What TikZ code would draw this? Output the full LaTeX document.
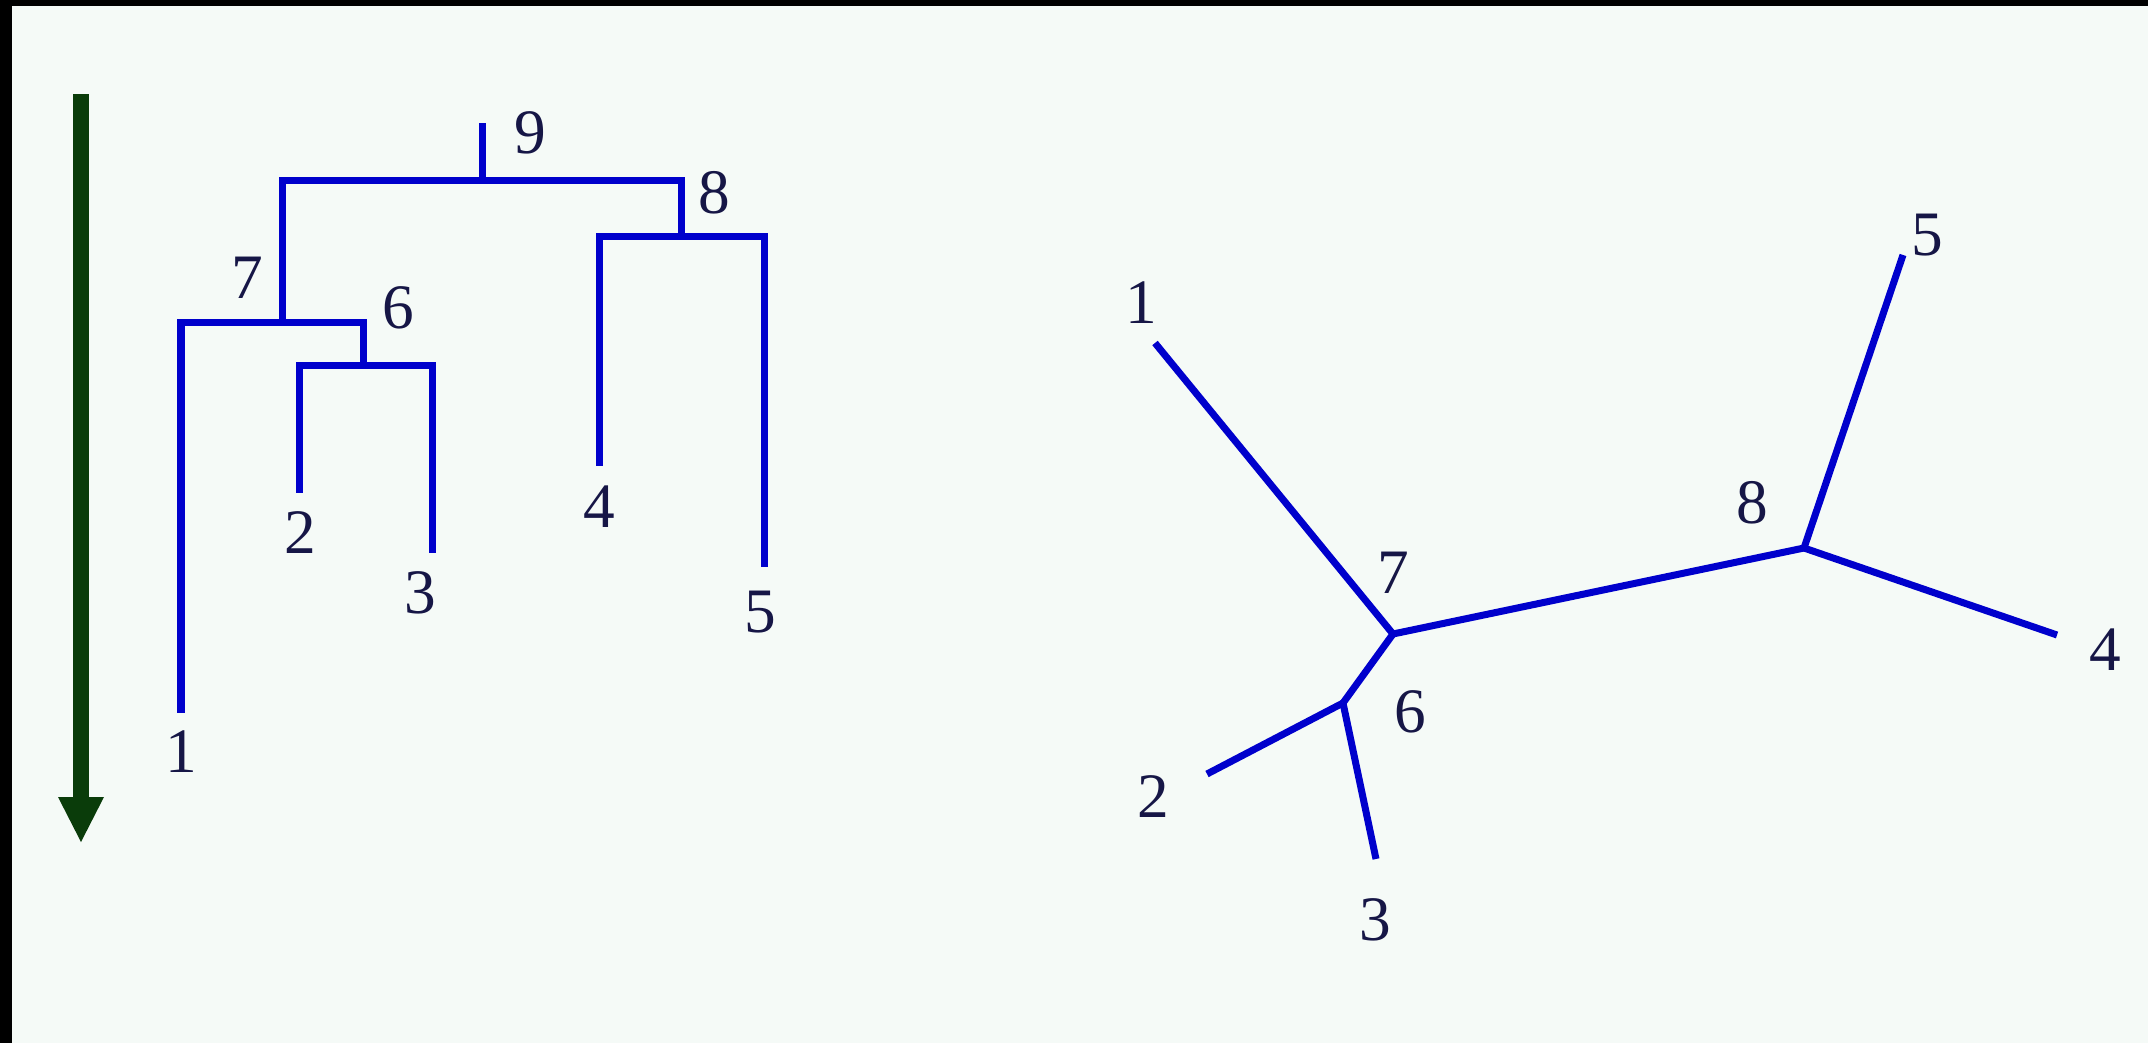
\documentclass[tikz,border=0pt]{standalone}
\usepackage{fontspec}
\setmainfont{Liberation Serif}
\definecolor{bg}{RGB}{245,250,247}
\definecolor{treeblue}{RGB}{0,0,204}
\definecolor{lbl}{RGB}{22,22,70}
\definecolor{arrowgreen}{RGB}{10,60,10}
\begin{document}
\begin{tikzpicture}[x=0.01cm,y=-0.01cm,
  tree/.style={draw=treeblue,line width=0.07cm,line join=miter},
  lab/.style={text=lbl,font=\fontsize{18}{20}\selectfont,inner sep=0pt}]
\fill[bg] (0,0) rectangle (2148,1043);
\useasboundingbox (0,0) rectangle (2148,1043);
\fill[black] (0,0) rectangle (2148,6);
\fill[black] (0,0) rectangle (12,1043);
% time arrow
\fill[arrowgreen] (73,94) rectangle (89,798);
\fill[arrowgreen] (58,797) -- (104,797) -- (81,842) -- cycle;
% dendrogram coordinates
\coordinate (r9) at (482,123);
\coordinate (j9) at (482,181);
\coordinate (j8) at (681,237);
\coordinate (j7) at (282,323);
\coordinate (j6) at (363,366);
\coordinate (e1) at (181,713);
\coordinate (e2) at (299,493);
\coordinate (e3) at (432,553);
\coordinate (e4) at (599,466);
\coordinate (e5) at (764,567);
\draw[tree] (j9) -- (r9);
\draw[tree] (j9) -| (j7);
\draw[tree] (j9) -| (j8);
\draw[tree] (j7) -| (e1);
\draw[tree] (j7) -| (j6);
\draw[tree] (j6) -| (e2);
\draw[tree] (j6) -| (e3);
\draw[tree] (j8) -| (e4);
\draw[tree] (j8) -| (e5);
\node[lab] (l9) at (530,133) {9};
\node[lab] (l8) at (714,193) {8};
\node[lab] (l7) at (247,278) {7};
\node[lab] (l6) at (398,308) {6};
\node[lab] (l2) at (300,533) {2};
\node[lab] (l3) at (420,593) {3};
\node[lab] (l4) at (599,507) {4};
\node[lab] (l5) at (760,612) {5};
\node[lab] (l1) at (181,752) {1};
% unrooted tree
\coordinate (u7) at (1393,634);
\coordinate (u6) at (1343,703);
\coordinate (u8) at (1804,548);
\coordinate (f1) at (1155,343);
\coordinate (f2) at (1207,774);
\coordinate (f3) at (1376,859);
\coordinate (f4) at (2057,635);
\coordinate (f5) at (1903,255);
\draw[tree] (u7) -- (f1);
\draw[tree] (u7) -- (u6);
\draw[tree] (u6) -- (f2);
\draw[tree] (u6) -- (f3);
\draw[tree] (u7) -- (u8);
\draw[tree] (u8) -- (f4);
\draw[tree] (u8) -- (f5);
\node[lab] (m1) at (1141,303) {1};
\node[lab] (m7) at (1393,573) {7};
\node[lab] (m6) at (1410,712) {6};
\node[lab] (m2) at (1153,797) {2};
\node[lab] (m3) at (1375,920) {3};
\node[lab] (m8) at (1752,503) {8};
\node[lab] (m5) at (1927,235) {5};
\node[lab] (m4) at (2105,650) {4};
\end{tikzpicture}
\end{document}
